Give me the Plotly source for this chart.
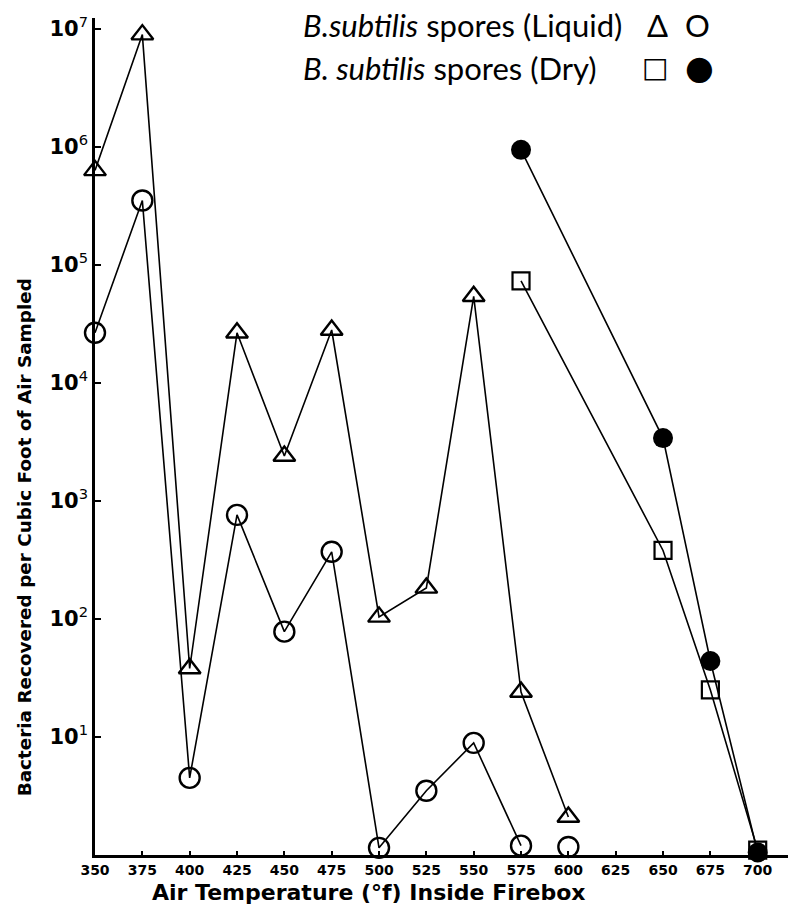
import plotly.graph_objects as go

temps_liquid = [350, 375, 400, 425, 450, 475, 500, 525, 550, 575, 600]
liquid_triangle = [6.3e5, 8.9e6, 38, 2.65e4, 2400, 2.8e4, 104, 183, 5.4e4, 24, 2.1]
liquid_circle = [2.65e4, 3.5e5, 4.5, 760, 78, 370, 1.15, 3.5, 8.9, 1.2, 1.17]
n_circle_connected = 10  # last circle (600) stands alone

temps_dry = [575, 650, 675, 700]
dry_square = [7.3e4, 380, 25, 1.1]
dry_circle = [9.4e5, 3400, 44, 1.05]

x_ticks = list(range(350, 701, 25))
x_ticktext = [f"<b>{t}</b>" for t in x_ticks]
y_tickvals = [1e1, 1e2, 1e3, 1e4, 1e5, 1e6, 1e7]
y_ticktext = ["<b>10</b><sup>1</sup>", "<b>10</b><sup>2</sup>", "<b>10</b><sup>3</sup>",
              "<b>10</b><sup>4</sup>", "<b>10</b><sup>5</sup>", "<b>10</b><sup>6</sup>",
              "<b>10</b><sup>7</sup>"]

BLACK = "black"
fig = go.Figure()

line_style = dict(color=BLACK, width=1.6)

# liquid triangles
fig.add_trace(go.Scatter(
    x=temps_liquid, y=liquid_triangle, mode="lines+markers", line=line_style,
    marker=dict(symbol="triangle-up-open", size=19, color=BLACK, line=dict(width=2.4, color=BLACK)),
    cliponaxis=False, showlegend=False))
# liquid circles (connected part)
fig.add_trace(go.Scatter(
    x=temps_liquid[:n_circle_connected], y=liquid_circle[:n_circle_connected], mode="lines",
    line=line_style, cliponaxis=False, showlegend=False))
fig.add_trace(go.Scatter(
    x=temps_liquid, y=liquid_circle, mode="markers",
    marker=dict(symbol="circle-open", size=20, color=BLACK, line=dict(width=2.4, color=BLACK)),
    cliponaxis=False, showlegend=False))
# dry squares
fig.add_trace(go.Scatter(
    x=temps_dry, y=dry_square, mode="lines+markers", line=line_style,
    marker=dict(symbol="square-open", size=17, color=BLACK, line=dict(width=2.2, color=BLACK)),
    cliponaxis=False, showlegend=False))
# dry filled circles
fig.add_trace(go.Scatter(
    x=temps_dry, y=dry_circle, mode="lines+markers", line=line_style,
    marker=dict(symbol="circle", size=20, color=BLACK),
    cliponaxis=False, showlegend=False))

fig.update_xaxes(
    range=[350, 716], tickmode="array", tickvals=x_ticks, ticktext=x_ticktext,
    ticks="inside", ticklen=4, tickwidth=2, tickcolor=BLACK,
    showline=True, linecolor=BLACK, linewidth=2.5, showgrid=False, zeroline=False,
    tickfont=dict(family="DejaVu Sans", size=14, color=BLACK),
)
fig.update_yaxes(
    type="log", range=[0, 7.09], tickmode="array", tickvals=y_tickvals, ticktext=y_ticktext,
    ticks="inside", ticklen=6, tickwidth=2, tickcolor=BLACK,
    showline=True, linecolor=BLACK, linewidth=2.5, showgrid=False, zeroline=False,
    tickfont=dict(family="DejaVu Sans", size=21, color=BLACK),
)

ROW1, ROW2 = 0.9916, 0.9403
LEG_X = 0.2973
annotations = [
    dict(text="<b>Air Temperature (°f) Inside Firebox</b>", xref="paper", yref="paper",
         x=0.395, y=-0.045, xanchor="center", yanchor="middle", showarrow=False,
         font=dict(family="DejaVu Sans", size=22, color=BLACK)),
    dict(text="<b>Bacteria Recovered per Cubic Foot of Air Sampled</b>", xref="paper", yref="paper",
         x=-0.084, y=0.068, xanchor="right", yanchor="bottom", textangle=-90, showarrow=False,
         font=dict(family="DejaVu Sans", size=18.4, color=BLACK)),
    dict(text="<i>B.subtilis</i> spores (Liquid)", xref="paper", yref="paper",
         x=LEG_X, y=ROW1, xanchor="left", yanchor="middle", showarrow=False,
         font=dict(family="Lato", size=31, color=BLACK)),
    dict(text="<i>B. subtilis</i> spores (Dry)", xref="paper", yref="paper",
         x=LEG_X, y=ROW2, xanchor="left", yanchor="middle", showarrow=False,
         font=dict(family="Lato", size=31, color=BLACK)),
    dict(text="\u0394", xref="paper", yref="paper", x=0.811, y=ROW1, xanchor="center",
         yanchor="middle", showarrow=False, font=dict(family="Lato", size=31, color=BLACK)),
    dict(text="O", xref="paper", yref="paper", x=0.870, y=ROW1, xanchor="center",
         yanchor="middle", showarrow=False, font=dict(family="Lato", size=31, color=BLACK)),
    dict(text="\u25a1", xref="paper", yref="paper", x=0.808, y=ROW2, xanchor="center",
         yanchor="middle", showarrow=False, font=dict(family="DejaVu Sans", size=28, color=BLACK)),
    dict(text="\u25cf", xref="paper", yref="paper", x=0.873, y=ROW2, xanchor="center",
         yanchor="middle", showarrow=False, font=dict(family="DejaVu Sans", size=33, color=BLACK)),
]

fig.update_layout(
    width=788, height=908,
    margin=dict(l=95, r=0, t=18, b=53),
    plot_bgcolor="white", paper_bgcolor="white",
    annotations=annotations,
    showlegend=False,
)

fig.write_html("out.html", config={"displayModeBar": False},
               post_script="document.body.style.margin='0';document.body.style.overflow='hidden';")
